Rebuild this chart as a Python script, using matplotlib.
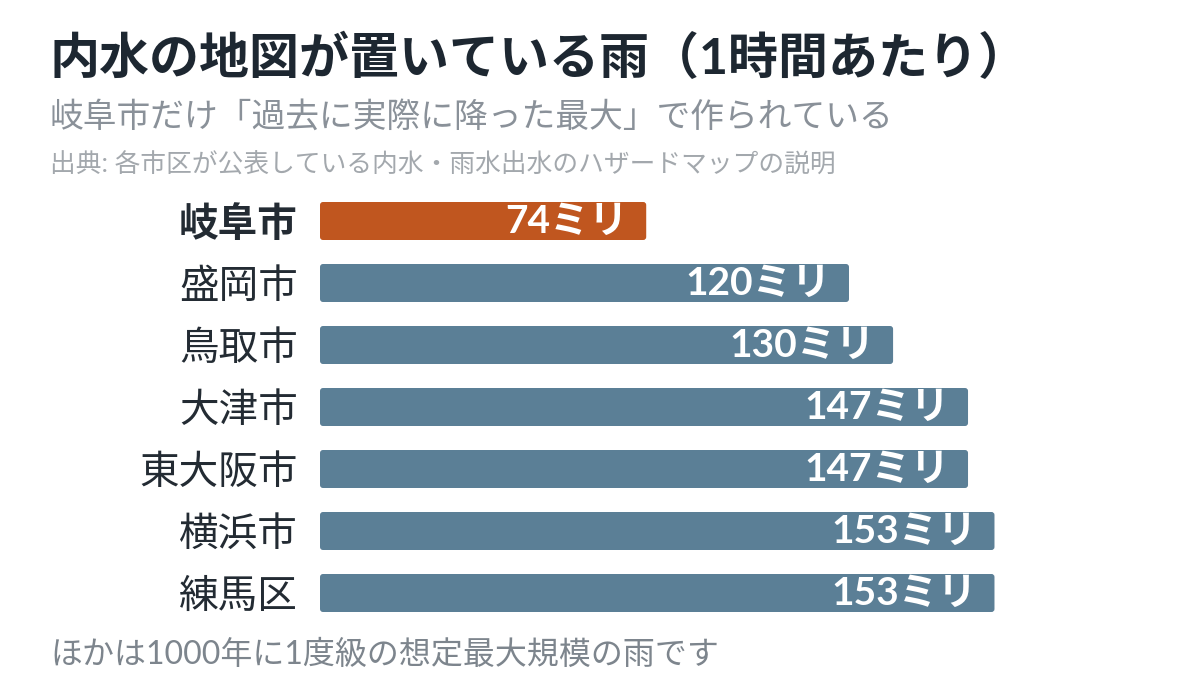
import matplotlib
matplotlib.use("Agg")
import matplotlib.pyplot as plt
from matplotlib.patches import FancyBboxPatch

categories = ["岐阜市", "盛岡市", "鳥取市", "大津市", "東大阪市", "横浜市", "練馬区"]
values = [74, 120, 130, 147, 147, 153, 153]
highlight = ["岐阜市"]
unit = "ミリ"

title = "内水の地図が置いている雨（1時間あたり）"
subtitle = "岐阜市だけ「過去に実際に降った最大」で作られている"
source = "出典: 各市区が公表している内水・雨水出水のハザードマップの説明"
footer = "ほかは1000年に1度級の想定最大規模の雨です"

FONT = ["Lato", "Noto Sans CJK JP", "DejaVu Sans"]
plt.rcParams["font.family"] = FONT

W, H = 1200, 700
fig = plt.figure(figsize=(12, 7), dpi=100)
fig.patch.set_facecolor("white")

px_per_unit = (849 - 320) / 120.0
xmax = 180
left = 320 / W
width = xmax * px_per_unit / W
top_px, bot_px = 190, 624
ax = fig.add_axes([left, 1 - bot_px / H, width, (bot_px - top_px) / H])

ORANGE = "#c0561f"
BLUE = "#5b7f96"
colors = [ORANGE if c in highlight else BLUE for c in categories]
ypos = list(range(len(categories)))
bars = ax.barh(ypos, values, height=38 / 62, color=colors)
ax.set_xlim(0, xmax)
ax.set_ylim(len(categories) - 0.5, -0.5)

# rounded corners
r_x = 3 / px_per_unit
r_y = 3 / 62
for b in bars:
    x0, y0 = b.get_x(), b.get_y()
    w, h = b.get_width(), b.get_height()
    p = FancyBboxPatch((x0, y0), w, h,
                       boxstyle=f"round,pad=0,rounding_size={r_x}",
                       mutation_aspect=r_y / r_x,
                       facecolor=b.get_facecolor(), edgecolor="none")
    b.set_visible(False)
    ax.add_patch(p)
    ax.text(x0 + w - 18 / px_per_unit, y0 + h / 2, f"{int(w)}{unit}",
            ha="right", va="center", color="white", fontsize=28,
            fontweight="bold", family=FONT)

ax.set_yticks(ypos)
ax.set_yticklabels(categories)
for lab, c in zip(ax.get_yticklabels(), categories):
    lab.set_fontsize(28.5)
    lab.set_color("#232b33")
    lab.set_family(FONT)
    if c in highlight:
        lab.set_fontweight("bold")
ax.tick_params(axis="y", length=0, pad=16)
ax.set_xticks([])
for s in ax.spines.values():
    s.set_visible(False)

fig.text(50 / W, 1 - 58 / H, title, fontsize=36, fontweight="bold",
         color="#1d2731", ha="left", va="center", family=FONT)
fig.text(50 / W, 1 - 117 / H, subtitle, fontsize=24.3, color="#8a9199",
         ha="left", va="center", family=FONT)
fig.text(50 / W, 1 - 165 / H, source, fontsize=18.5, color="#a3a8ad",
         ha="left", va="center", family=FONT)
fig.text(50 / W, 1 - 655 / H, footer, fontsize=23, color="#7d858d",
         ha="left", va="center", family=FONT)

fig.savefig("out.png", dpi=100, facecolor="white")
